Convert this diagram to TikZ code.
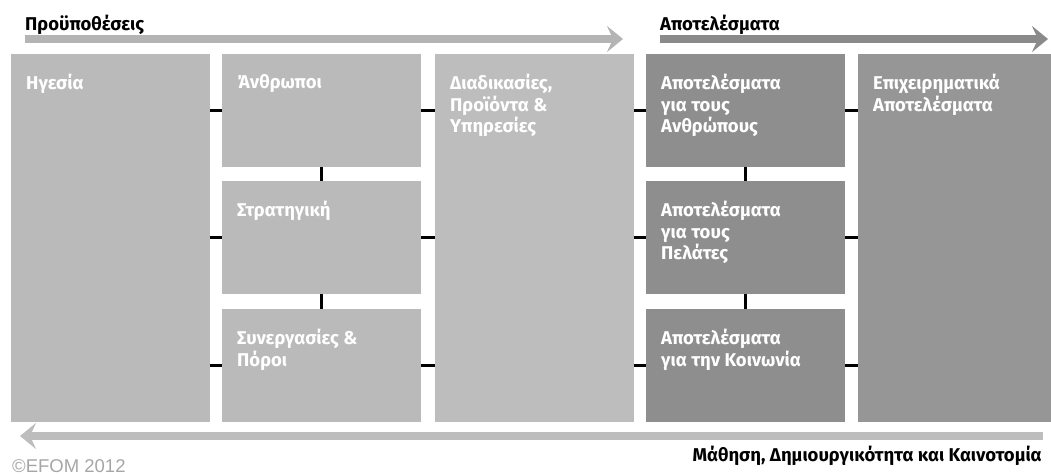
\documentclass[tikz,border=0pt]{standalone}
\usepackage{fontspec}
\setmainfont{Fira Sans}
\newfontfamily\copyfont{Liberation Sans}
\usetikzlibrary{positioning,arrows.meta}

\definecolor{enabler}{HTML}{BABABA}
\definecolor{process}{HTML}{BDBDBD}
\definecolor{result}{HTML}{8E8E8E}
\definecolor{keyresult}{HTML}{969696}
\definecolor{barlight}{HTML}{B4B4B4}
\definecolor{bardark}{HTML}{8A8A8A}
\definecolor{barback}{HTML}{BDBDBD}

\tikzset{
	box/.style={anchor=north west, inner sep=0pt, outer sep=0pt},
	boxtext/.style={anchor=north west, text=white, align=left, inner sep=0pt,
		font=\bfseries\fontsize{18.5}{21.5}\selectfont, xshift=15pt, yshift=-20pt},
	flow/.style={line width=8pt, -{Stealth[length=16pt,width=26pt,inset=6pt]}},
	heading/.style={font=\bfseries\fontsize{18.5}{22}\selectfont, anchor=base west, inner sep=0pt},
}

\newcommand{\criterion}[7][]
{
	% box with its title in the top left corner
	\node [box, fill=#6, minimum width=#4pt, minimum height=#5pt,
		label={[boxtext]north west:{#7}}] (#1) at (#2, #3) {};
}
\newcommand{\link}[3][]
{
	\path [draw=black, line width=2.5pt, #1] (#2) -- (#3);
}

\begin{document}
\begin{tikzpicture}[x=1pt, y=-1pt]
		\useasboundingbox (0,0) rectangle (1051,475);
		\criterion[heg]{11}{54}{199}{368}{enabler}{Ηγεσία}
		\criterion[peo]{222}{54}{199}{113}{enabler}{Άνθρωποι}
		\criterion[str]{222}{181}{199}{113}{enabler}{Στρατηγική}
		\criterion[par]{222}{309}{199}{113}{enabler}{Συνεργασίες \&\\Πόροι}
		\criterion[pro]{435}{54}{199}{368}{process}{Διαδικασίες,\\Προϊόντα \&\\Υπηρεσίες}
		\criterion[rpeo]{646}{54}{199}{113}{result}{Αποτελέσματα\\για τους\\Ανθρώπους}
		\criterion[rcus]{646}{181}{199}{113}{result}{Αποτελέσματα\\για τους\\Πελάτες}
		\criterion[rsoc]{646}{309}{199}{113}{result}{Αποτελέσματα\\για την Κοινωνία}
		\criterion[bus]{858}{54}{193}{368}{keyresult}{Επιχειρηματικά\\Αποτελέσματα}
		% horizontal links
		\link{peo.west}{peo.west -| heg.east}
		\link{str.west}{str.west -| heg.east}
		\link{par.west}{par.west -| heg.east}
		\link{peo.east}{peo.east -| pro.west}
		\link{str.east}{str.east -| pro.west}
		\link{par.east}{par.east -| pro.west}
		\link{rpeo.west}{rpeo.west -| pro.east}
		\link{rcus.west}{rcus.west -| pro.east}
		\link{rsoc.west}{rsoc.west -| pro.east}
		\link{rpeo.east}{rpeo.east -| bus.west}
		\link{rcus.east}{rcus.east -| bus.west}
		\link{rsoc.east}{rsoc.east -| bus.west}
		% vertical links
		\link{peo.south}{str.north}
		\link{str.south}{par.north}
		\link{rpeo.south}{rcus.north}
		\link{rcus.south}{rsoc.north}
		% flows
		\node [heading] (pre) at (25, 30) {Προϋποθέσεις};
		\node [heading] (res) at (660, 30) {Αποτελέσματα};
		\coordinate (prestart) at (25, 39);
		\coordinate (preend) at (623, 39);
		\coordinate (resstart) at (660, 39);
		\coordinate (resend) at (1048, 39);
		\draw [flow, draw=barlight] (prestart) -- (preend);
		\draw [flow, draw=bardark] (resstart) -- (resend);
		\coordinate (learnstart) at (1043, 436);
		\coordinate (learnend) at (20, 436);
		\draw [flow, draw=barback] (learnstart) -- (learnend);
		\node [heading, anchor=base east] (learn) at (1042, 461) {Μάθηση, Δημιουργικότητα και Καινοτομία};
		\node [anchor=base west, inner sep=0pt, text=black!35, font=\copyfont\fontsize{18.5}{18.5}\selectfont] (copy) at (12, 472) {©EFOM 2012};
		\end{tikzpicture}
\end{document}
